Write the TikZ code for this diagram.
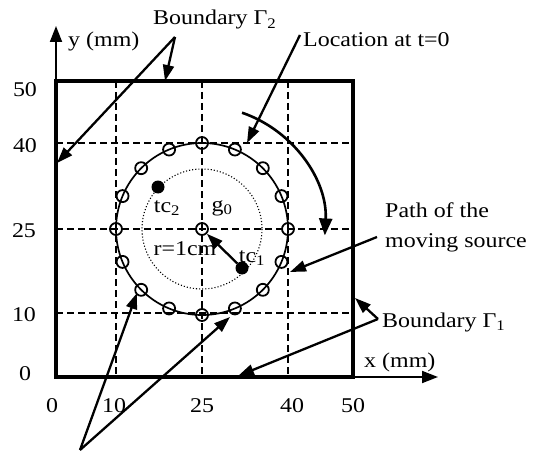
\documentclass[tikz,border=0pt]{standalone}
\usepackage{fontspec}
\setmainfont{Liberation Serif}[FakeStretch=1.14]
\usetikzlibrary{arrows.meta}
\begin{document}
\begin{tikzpicture}[x=1pt,y=-1pt,
  every node/.style={font=\fontsize{21}{25}\selectfont, inner sep=0pt},
  frame/.style={line width=3.4pt},
  gridline/.style={line width=1.6pt, dash pattern=on 7pt off 4pt},
  axis/.style={line width=1.8pt,-{Triangle[length=16pt,width=12pt]}},
  pointer/.style={line width=2.3pt,-{Triangle[length=16pt,width=11pt]}},
  marker/.style={circle, draw, line width=1.8pt, minimum size=12pt, inner sep=0pt},
  dot/.style={circle, fill, minimum size=13pt, inner sep=0pt},
  lbl/.style={anchor=base west},
  tick/.style={anchor=base}]
\useasboundingbox (0,0) rectangle (539,452);
\fill[white] (0,0) rectangle (539,452);
% grid
\coordinate (c) at (202,229);
\foreach \gx in {116,202,288} \draw[gridline] (\gx,81) -- (\gx,377);
\foreach \gy in {143,229,313} \draw[gridline] (56,\gy) -- (353,\gy);
% circles
\draw[dotted, line width=1.1pt] (c) circle[radius=60];
\draw[line width=1.7pt] (c) circle[radius=86];
\foreach \k in {0,...,15} \node[marker] (m\k) at ([shift={(\k*22.5:86)}]c) {};
\node[marker] (cm) at (c) {};
% axes and frame
\coordinate (o) at (56,377);
\coordinate (ytip) at (56,26);
\coordinate (xtip) at (438,377);
\draw[axis] (o) -- (ytip);
\draw[axis] (o) -- (xtip);
\draw[frame] (56,81) rectangle (353,377);
% heat sources
\node[dot] (tc2) at (158,187) {};
\node[dot] (tc1) at (242,268) {};
\draw[pointer] (tc1) -- (cm);
\node (tc2l) at (167,208) {tc\textsubscript{2}};
\node (g0l) at (222,208) {g\textsubscript{0}};
\node (rl) at (185,249) {r=1cm};
\node (tc1l) at (252,258) {tc\textsubscript{1}};
% tick labels
\node[tick] (ly50) at (25,97) {50};
\node[tick] (ly40) at (25,153) {40};
\node[tick] (ly25) at (24,237) {25};
\node[tick] (ly10) at (24,321) {10};
\node[tick] (ly0) at (25,380) {0};
\node[tick] (lx0) at (52,412) {0};
\node[tick] (lx10) at (114,412) {10};
\node[tick] (lx25) at (202,412) {25};
\node[tick] (lx40) at (292,412) {40};
\node[tick] (lx50) at (353,412) {50};
\node[lbl] (yl) at (68,47) {y (mm)};
\node[lbl] (xl) at (364,367) {x (mm)};
% annotations
\node[lbl] (b2) at (153,25) {Boundary Γ\textsubscript{2}};
\coordinate (b2s) at (175,37);
\coordinate (b2a) at (57,163);
\coordinate (b2b) at (165,81);
\draw[pointer] (b2s) -- (b2a);
\draw[pointer] (b2s) -- (b2b);
\node[lbl] (loc) at (303,47) {Location at t=0};
\coordinate (locs) at (300,35);
\coordinate (loct) at (247,143);
\draw[pointer] (locs) -- (loct);
\draw[line width=2.6pt,-{Triangle[length=17pt,width=13pt]}] ([shift={(-71:123)}]c) arc[start angle=-71, end angle=3, radius=123];
\node[lbl] (path1) at (385,218) {Path of the};
\node[lbl] (path2) at (385,247) {moving source};
\coordinate (paths) at (377,237);
\coordinate (patht) at (290,272);
\draw[pointer] (paths) -- (patht);
\node[lbl] (b1) at (382,327) {Boundary Γ\textsubscript{1}};
\coordinate (b1s) at (378,319);
\coordinate (b1a) at (355,298);
\coordinate (b1b) at (238,376);
\draw[pointer] (b1s) -- (b1a);
\draw[pointer] (b1s) -- (b1b);
\coordinate (bls) at (80,450);
\coordinate (bla) at (137,293);
\coordinate (blb) at (230,317);
\draw[pointer] (bls) -- (bla);
\draw[pointer] (bls) -- (blb);
\end{tikzpicture}
\end{document}
